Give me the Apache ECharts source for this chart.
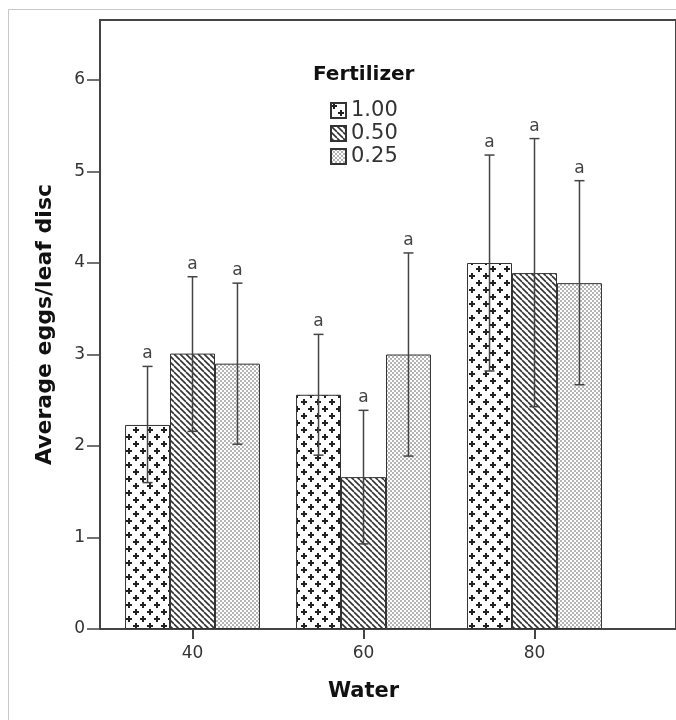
<!DOCTYPE html>
<html>
<head>
<meta charset="utf-8">
<script src="https://cdn.jsdelivr.net/npm/echarts@6/dist/echarts.min.js"></script>
<style>html,body{margin:0;padding:0;background:#fff;}#c{width:676px;height:720px;}</style>
</head>
<body>
<div id="c"></div>
<script>
// ---- data ----
var waterLevels = ['40', '60', '80'];
var fertilizers = ['1.00', '0.50', '0.25'];
var mean100 = [2.23, 2.56, 4.00];
var mean050 = [3.01, 1.66, 3.89];
var mean025 = [2.90, 3.00, 3.78];
var low100 = [1.60, 1.90, 2.82];
var high100 = [2.87, 3.22, 5.18];
var low050 = [2.16, 0.93, 2.43];
var high050 = [3.85, 2.39, 5.36];
var low025 = [2.02, 1.89, 2.67];
var high025 = [3.78, 4.11, 4.90];
var sigLetters100 = ['a', 'a', 'a'];
var sigLetters050 = ['a', 'a', 'a'];
var sigLetters025 = ['a', 'a', 'a'];
var yTicks = [0, 1, 2, 3, 4, 5, 6];

// ---- patterns ----
function mk(w, h, draw) {
  var c = document.createElement('canvas');
  c.width = w; c.height = h;
  var g = c.getContext('2d');
  g.fillStyle = '#fff'; g.fillRect(0, 0, w, h);
  draw(g, w, h);
  return { image: c, repeat: 'repeat' };
}
var patCross = mk(14, 14, function (g) {
  g.fillStyle = '#222';
  [[3, 3], [10, 10]].forEach(function (p) {
    g.fillRect(p[0] - 3, p[1] - 1, 6, 2);
    g.fillRect(p[0] - 1, p[1] - 3, 2, 6);
  });
});
var patDiag = mk(6, 6, function (g) {
  g.strokeStyle = '#333'; g.lineWidth = 1.6;
  [-6, 0, 6].forEach(function (o) {
    g.beginPath(); g.moveTo(o, 0); g.lineTo(o + 6, 6); g.stroke();
  });
});
var patDots = mk(4, 4, function (g) {
  g.fillStyle = '#b5b5b5';
  g.fillRect(0, 0, 2, 2); g.fillRect(2, 2, 2, 2);
});

var FONT = 'DejaVu Sans, Liberation Sans, Arial, sans-serif';
var means = [mean100, mean050, mean025];
var lows = [low100, low050, low025];
var highs = [high100, high050, high025];
var letters = [sigLetters100, sigLetters050, sigLetters025];
var pats = [patCross, patDiag, patDots];
var YMAX = 6.656;
var BARFRAC = 0.263;

var barSeries = fertilizers.map(function (f, i) {
  return {
    name: f, type: 'bar', xAxisIndex: 1, yAxisIndex: 1,
    barWidth: (BARFRAC * 100) + '%', barGap: '0%',
    data: means[i],
    itemStyle: { color: pats[i], borderColor: '#333', borderWidth: 1 },
    emphasis: { disabled: true }, silent: true
  };
});

var errData = [];
fertilizers.forEach(function (f, s) {
  waterLevels.forEach(function (w, k) {
    errData.push([k, s, means[s][k], lows[s][k], highs[s][k], letters[s][k]]);
  });
});

var errSeries = {
  type: 'custom', name: 'err', xAxisIndex: 1, yAxisIndex: 1, silent: true,
  encode: { x: 0, y: [3, 4] },
  data: errData,
  z: 5,
  renderItem: function (params, api) {
    var k = api.value(0), s = api.value(1);
    var band = api.size([1, 0])[0];
    var off = (s - 1) * band * BARFRAC;
    var pH = api.coord([k, api.value(4)]);
    var pL = api.coord([k, api.value(3)]);
    var x = pH[0] + off;
    var cap = 5;
    var st = { stroke: '#444', lineWidth: 1.5 };
    return {
      type: 'group',
      children: [
        { type: 'line', shape: { x1: x, y1: pH[1], x2: x, y2: pL[1] }, style: st },
        { type: 'line', shape: { x1: x - cap, y1: pH[1], x2: x + cap, y2: pH[1] }, style: st },
        { type: 'line', shape: { x1: x - cap, y1: pL[1], x2: x + cap, y2: pL[1] }, style: st },
        { type: 'text', x: x, y: pH[1] - 4, style: { text: errData[params.dataIndex][5], fill: '#444', font: '17px ' + FONT, textAlign: 'center', textVerticalAlign: 'bottom' } }
      ]
    };
  }
};

var chart = echarts.init(document.getElementById('c'), null, { renderer: 'canvas' });
chart.setOption({
  animation: false,
  backgroundColor: '#fff',
  textStyle: { fontFamily: FONT },
  graphic: [{
    type: 'rect', silent: true, z: -10,
    shape: { x: 8.5, y: 9.5, width: 720, height: 760 },
    style: { fill: 'none', stroke: '#c8c8c8', lineWidth: 1 }
  }],
  title: {
    text: 'Fertilizer', left: 313, top: 65, padding: 0,
    textStyle: { fontSize: 20, fontWeight: 'bold', color: '#111', fontFamily: FONT }
  },
  legend: {
    data: fertilizers, orient: 'vertical', left: 330, top: 100, padding: 0,
    itemWidth: 15, itemHeight: 15, itemGap: 2, icon: 'rect',
    textStyle: { fontSize: 21, color: '#333', fontFamily: FONT },
    selectedMode: false
  },
  grid: [
    { left: 100, top: 20, right: -30, bottom: 91, show: true, borderColor: '#444', borderWidth: 2, backgroundColor: 'transparent' },
    { left: 107, top: 20, width: 513, bottom: 91 }
  ],
  xAxis: [
    { gridIndex: 0, type: 'value', min: 0, max: 1, show: false },
    {
      gridIndex: 1, type: 'category', data: waterLevels,
      axisLine: { show: false },
      axisTick: { show: true, alignWithLabel: true, length: 10, lineStyle: { color: '#444', width: 2 } },
      axisLabel: { fontSize: 17, color: '#333', margin: 16, fontFamily: FONT },
      name: 'Water', nameLocation: 'middle', nameGap: 52,
      nameTextStyle: { fontSize: 21, fontWeight: 'bold', color: '#111', fontFamily: FONT }
    }
  ],
  yAxis: [
    {
      gridIndex: 0, type: 'value', min: 0, max: YMAX,
      axisLine: { show: true, lineStyle: { color: '#444', width: 2 } },
      axisTick: { show: true, length: 13, customValues: yTicks, lineStyle: { color: '#444', width: 1.5 } },
      axisLabel: { fontSize: 17, color: '#333', margin: 15, customValues: yTicks, fontFamily: FONT },
      splitLine: { show: false },
      name: 'Average eggs/leaf disc', nameLocation: 'middle', nameGap: 44,
      nameTextStyle: { fontSize: 22, fontWeight: 'bold', color: '#111', fontFamily: FONT }
    },
    { gridIndex: 1, type: 'value', min: 0, max: YMAX, show: false, splitLine: { show: false } }
  ],
  series: barSeries.concat([errSeries])
});
</script>
</body>
</html>
